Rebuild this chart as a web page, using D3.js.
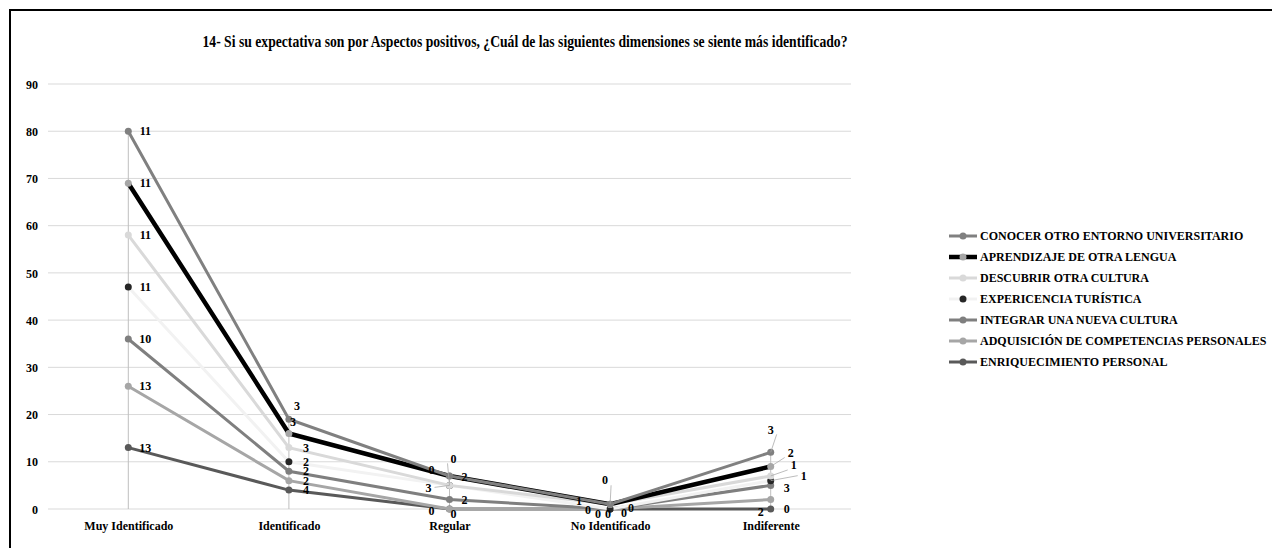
<!DOCTYPE html>
<html>
<head>
<meta charset="utf-8">
<script src="https://cdn.jsdelivr.net/npm/d3@7"></script>
<style>
    body { margin: 0; background: #fff; }
</style>
</head>
<body>
<script>
var width = 1272;
var height = 548;
var serif = "'Liberation Serif', 'Times New Roman', 'DejaVu Serif', serif";

var categories = ["Muy Identificado", "Identificado", "Regular", "No Identificado", "Indiferente"];

// series from the bottom of the stack to the top
var seriesNames = [
    "ENRIQUECIMIENTO PERSONAL",
    "ADQUISICIÓN DE COMPETENCIAS PERSONALES",
    "INTEGRAR UNA NUEVA CULTURA",
    "EXPERICENCIA TURÍSTICA",
    "DESCUBRIR OTRA CULTURA",
    "APRENDIZAJE DE OTRA LENGUA",
    "CONOCER OTRO ENTORNO UNIVERSITARIO"
];
var enriquecimiento = [13, 4, 0, 0, 0];
var adquisicion = [13, 2, 0, 0, 2];
var integrar = [10, 2, 2, 0, 3];
var experiencia = [11, 2, 3, 0, 1];
var descubrir = [11, 3, 0, 1, 1];
var aprendizaje = [11, 3, 2, 0, 2];
var conocer = [11, 3, 0, 0, 3];
var seriesValues = [enriquecimiento, adquisicion, integrar, experiencia, descubrir, aprendizaje, conocer];

var yTicks = [0, 10, 20, 30, 40, 50, 60, 70, 80, 90];

var lineColors = ["#595959", "#a6a6a6", "#7f7f7f", "#f2f2f2", "#d9d9d9", "#000000", "#808080"];
var markerColors = ["#595959", "#a6a6a6", "#7f7f7f", "#262626", "#d9d9d9", "#a6a6a6", "#808080"];
var lineWidths = [3, 3, 3, 3, 3, 4.5, 3];

// label nudges "series-category" -> [dx, dy, leader]
var nudges = {
    "6-1": [8, -13], "5-1": [4, -12],
    "0-2": [4, 5], "1-2": [-18, 2], "2-2": [15, 0], "3-2": [-21, 2, 1],
    "4-2": [4, -27, 1], "5-2": [15, 1], "6-2": [-18, -6],
    "0-3": [-2, 5], "1-3": [14, 4], "2-3": [-22, 1], "3-3": [-12, 5],
    "4-3": [-31, -3], "5-3": [-5, -24, 1], "6-3": [21, 4],
    "0-4": [16, 0], "1-4": [-10, 12], "2-4": [16, 2], "3-4": [33, -5, 1],
    "4-4": [23, -11, 1], "5-4": [20, -14, 1], "6-4": [0, -23, 1]
};

var svg = d3.select("body").append("svg")
    .attr("width", width)
    .attr("height", height)
    .style("font-family", serif);

svg.append("rect")
    .attr("x", 10)
    .attr("y", 10)
    .attr("width", 1300)
    .attr("height", 600)
    .attr("fill", "#fff")
    .attr("stroke", "#000")
    .attr("stroke-width", 2);

svg.append("text")
    .attr("x", 525)
    .attr("y", 47)
    .attr("text-anchor", "middle")
    .attr("textLength", 645)
    .attr("lengthAdjust", "spacingAndGlyphs")
    .style("font-family", serif)
    .style("font-weight", "bold")
    .style("font-size", "16.5px")
    .text("14- Si su expectativa son por Aspectos positivos, ¿Cuál de las siguientes dimensiones se siente más identificado?");

var x = d3.scalePoint()
    .domain(categories)
    .range([48, 851])
    .padding(0.5);

var y = d3.scaleLinear()
    .domain([0, 90])
    .range([509, 84]);

// gridlines
svg.append("g").selectAll("line").data(yTicks).enter()
    .append("line")
    .attr("x1", 48)
    .attr("x2", 851)
    .attr("y1", function (d) { return y(d); })
    .attr("y2", function (d) { return y(d); })
    .attr("stroke", "#d9d9d9")
    .attr("stroke-width", 1);

var yAxis = svg.append("g")
    .attr("transform", "translate(38,0)")
    .call(d3.axisLeft(y).tickValues(yTicks).tickSize(0).tickPadding(0));
yAxis.select(".domain").remove();
yAxis.selectAll("text")
    .attr("dy", "0.35em")
    .style("font-family", serif)
    .style("font-weight", "bold")
    .style("font-size", "12px")
    .attr("fill", "#000");

var xAxis = svg.append("g")
    .attr("transform", "translate(0,509)")
    .call(d3.axisBottom(x).tickSize(0).tickPadding(12));
xAxis.select(".domain").remove();
xAxis.selectAll("text")
    .style("font-family", serif)
    .style("font-weight", "bold")
    .style("font-size", "12px")
    .attr("fill", "#000");

// stacking
var stack = seriesValues.map(function (vals, s) {
    return vals.map(function (v, i) {
        var total = 0;
        for (var k = 0; k <= s; k++) total += seriesValues[k][i];
        return {s: s, i: i, value: v, total: total};
    });
});

var tops = categories.map(function (c, i) {
    return d3.max(stack, function (ser) { return ser[i].total; });
});

// drop lines
svg.append("g").selectAll("line").data(categories).enter()
    .append("line")
    .attr("x1", function (d) { return x(d); })
    .attr("x2", function (d) { return x(d); })
    .attr("y1", function (d, i) { return y(tops[i]); })
    .attr("y2", y(0))
    .attr("stroke", "#bfbfbf")
    .attr("stroke-width", 1);

var line = d3.line()
    .x(function (d) { return x(categories[d.i]); })
    .y(function (d) { return y(d.total); });

var seriesGroup = svg.selectAll(".series").data(stack).enter()
    .append("g")
    .classed("series", true);

seriesGroup.append("path")
    .attr("d", line)
    .attr("fill", "none")
    .attr("stroke", function (d, s) { return lineColors[s]; })
    .attr("stroke-width", function (d, s) { return lineWidths[s]; });

seriesGroup.selectAll("circle").data(function (d) { return d; }).enter()
    .append("circle")
    .attr("cx", function (d) { return x(categories[d.i]); })
    .attr("cy", function (d) { return y(d.total); })
    .attr("r", 3.5)
    .attr("fill", function (d) { return markerColors[d.s]; });

// data labels
var labelData = [];
stack.forEach(function (ser) { ser.forEach(function (d) { labelData.push(d); }); });

function nudge(d) {
    return nudges[d.s + "-" + d.i] || [17, 0];
}

svg.append("g").selectAll("line").data(labelData.filter(function (d) { return nudge(d)[2]; })).enter()
    .append("line")
    .attr("x1", function (d) { return x(categories[d.i]); })
    .attr("y1", function (d) { return y(d.total); })
    .attr("x2", function (d) { var n = nudge(d); return x(categories[d.i]) + n[0] + (n[0] > 0 ? -6 : 6); })
    .attr("y2", function (d) { var n = nudge(d); return y(d.total) + n[1] + (n[1] < -10 ? 5 : 0); })
    .attr("stroke", "#a6a6a6")
    .attr("stroke-width", 0.75);

svg.append("g").selectAll("text").data(labelData).enter()
    .append("text")
    .attr("x", function (d) { return x(categories[d.i]) + nudge(d)[0]; })
    .attr("y", function (d) { return y(d.total) + nudge(d)[1]; })
    .attr("dy", "0.35em")
    .attr("text-anchor", "middle")
    .style("font-family", serif)
    .style("font-weight", "bold")
    .style("font-size", "12px")
    .text(function (d) { return d.value; });

// legend, top of stack first
var legend = svg.append("g").attr("transform", "translate(949,236)");
var legendItems = legend.selectAll("g").data(d3.range(seriesNames.length - 1, -1, -1)).enter()
    .append("g")
    .attr("transform", function (s, k) { return "translate(0," + (k * 21) + ")"; });

legendItems.append("line")
    .attr("x1", 0)
    .attr("x2", 28)
    .attr("stroke", function (s) { return lineColors[s]; })
    .attr("stroke-width", function (s) { return lineWidths[s]; });

legendItems.append("circle")
    .attr("cx", 14)
    .attr("r", 3.5)
    .attr("fill", function (s) { return markerColors[s]; });

legendItems.append("text")
    .attr("x", 31)
    .attr("dy", "0.35em")
    .style("font-family", serif)
    .style("font-weight", "bold")
    .style("font-size", "12px")
    .text(function (s) { return seriesNames[s]; });
</script>
</body>
</html>
